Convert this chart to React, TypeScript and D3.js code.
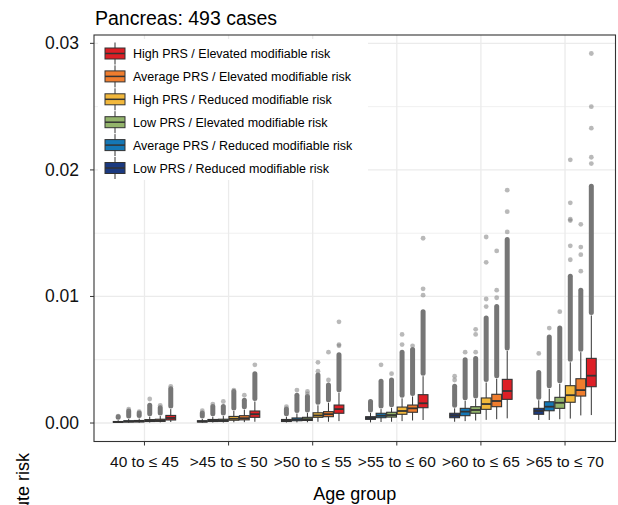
import React from "react";
import * as d3 from "d3";

const chartTitle = "Pancreas: 493 cases";
const xTitle = "Age group";
const yTitle = "Absolute risk";

const ageGroups = ["40 to ≤ 45", ">45 to ≤ 50", ">50 to ≤ 55", ">55 to ≤ 60", ">60 to ≤ 65", ">65 to ≤ 70"];

// left-to-right order inside each age group
const seriesNames = [
  "Low PRS / Reduced modifiable risk",
  "Average PRS / Reduced modifiable risk",
  "Low PRS / Elevated modifiable risk",
  "High PRS / Reduced modifiable risk",
  "Average PRS / Elevated modifiable risk",
  "High PRS / Elevated modifiable risk",
];
const seriesColors = ["#1B3A80", "#1477B6", "#93B46B", "#F2B83C", "#F07D2E", "#DD1F26"];

// per age group: [lower whisker, Q1, median, Q3, upper whisker, top of dense outlier column]
const lowPrsReduced = [
  [0.00002, 0.00005, 0.00008, 0.00012, 0.00022, 0.0005],
  [0.00003, 0.00008, 0.00012, 0.00018, 0.00032, 0.0008],
  [0.00004, 0.00012, 0.00018, 0.00028, 0.0005, 0.0011],
  [0.00005, 0.00029, 0.0004, 0.0005, 0.0008, 0.0017],
  [0.0001, 0.00042, 0.0006, 0.00077, 0.00116, 0.0029],
  [0.00024, 0.00069, 0.00095, 0.00116, 0.0018, 0.004],
];
const avgPrsReduced = [
  [0.00003, 0.00008, 0.00012, 0.00018, 0.00032, 0.00095],
  [0.00004, 0.00012, 0.00018, 0.00028, 0.0005, 0.0013],
  [0.00005, 0.00018, 0.00027, 0.0004, 0.00075, 0.0022],
  [0.00008, 0.00042, 0.00058, 0.00077, 0.0011, 0.0033],
  [0.00015, 0.00058, 0.0009, 0.00116, 0.00176, 0.005],
  [0.00024, 0.00097, 0.00129, 0.00168, 0.0027, 0.0068],
];
const lowPrsElevated = [
  [0.00003, 0.00009, 0.00013, 0.0002, 0.00035, 0.0008],
  [0.00004, 0.00013, 0.0002, 0.0003, 0.00055, 0.0013],
  [0.00006, 0.0002, 0.0003, 0.00045, 0.0008, 0.0021],
  [0.0001, 0.00047, 0.00063, 0.00085, 0.0012, 0.0034],
  [0.0002, 0.00077, 0.00103, 0.00129, 0.0019, 0.0051],
  [0.0003, 0.00116, 0.0016, 0.00203, 0.0031, 0.0075],
];
const highPrsReduced = [
  [0.00004, 0.00012, 0.00018, 0.00027, 0.0005, 0.0014],
  [0.00006, 0.00022, 0.00034, 0.00052, 0.00095, 0.0025],
  [0.0001, 0.00045, 0.0006, 0.00081, 0.0014, 0.0038],
  [0.00015, 0.00069, 0.00095, 0.00126, 0.00195, 0.0056],
  [0.00025, 0.00108, 0.0015, 0.00198, 0.0032, 0.0083],
  [0.00035, 0.00164, 0.0022, 0.00295, 0.0048, 0.0116],
];
const avgPrsElevated = [
  [0.00005, 0.00013, 0.0002, 0.0003, 0.00055, 0.0012],
  [0.00007, 0.00025, 0.00038, 0.00058, 0.00105, 0.0018],
  [0.0001, 0.0005, 0.0007, 0.0009, 0.0016, 0.003],
  [0.0002, 0.00085, 0.00116, 0.00142, 0.0021, 0.0058],
  [0.0003, 0.00129, 0.00174, 0.00227, 0.0035, 0.0092],
  [0.0006, 0.00213, 0.0026, 0.0035, 0.0056, 0.0105],
];
const highPrsElevated = [
  [0.00008, 0.00024, 0.0004, 0.0006, 0.0011, 0.0027],
  [0.0001, 0.00045, 0.0007, 0.00095, 0.0017, 0.0039],
  [0.00015, 0.00077, 0.0011, 0.00142, 0.0024, 0.0054],
  [0.00024, 0.00121, 0.00156, 0.00224, 0.0037, 0.0088],
  [0.00037, 0.00187, 0.00253, 0.00345, 0.0057, 0.0145],
  [0.00063, 0.00287, 0.00374, 0.00511, 0.0085, 0.0187],
];

// isolated outliers above the dense column, per age group
const lowPrsReducedOutliers = [[0.00055], [0.00097], [0.0013], [], [0.0034, 0.0037], [0.0055]];
const avgPrsReducedOutliers = [[0.0011], [0.0015], [0.0026], [0.0046], [0.0056], [0.0075]];
const lowPrsElevatedOutliers = [[0.0009], [0.0017], [0.0023, 0.0025], [0.0039], [0.0056, 0.007, 0.0074], [0.0088]];
const highPrsReducedOutliers = [[0.0019], [0.0026], [0.0041, 0.0048], [0.0062, 0.007], [0.0092, 0.0098, 0.0127, 0.0147], [0.0129, 0.014, 0.016, 0.0161, 0.0174, 0.0208]];
const avgPrsElevatedOutliers = [[0.0014], [0.0022], [0.0034, 0.0056], [0.0061], [0.0099, 0.0105, 0.0136], [0.012, 0.0133, 0.0139, 0.0157]];
const highPrsElevatedOutliers = [[0.0029], [0.0046], [0.0061, 0.0062, 0.008], [0.0101, 0.0106, 0.0146], [0.0151, 0.0167, 0.0184], [0.0205, 0.021, 0.0233, 0.025, 0.0292]];

const yTicks = [0, 0.01, 0.02, 0.03];
const yMinorTicks = [0.005, 0.015, 0.025];

const seriesStats = [lowPrsReduced, avgPrsReduced, lowPrsElevated, highPrsReduced, avgPrsElevated, highPrsElevated];
const seriesOutliers = [lowPrsReducedOutliers, avgPrsReducedOutliers, lowPrsElevatedOutliers, highPrsReducedOutliers, avgPrsElevatedOutliers, highPrsElevatedOutliers];

const W = 618;
const H = 505;
const panel = { left: 94, right: 615.5, top: 35, bottom: 441.5 };
const FONT = "'Liberation Sans', Arial, Helvetica, sans-serif";

export default function App() {
  const allMax = d3.max(seriesOutliers.flat(2)) as number;
  const pad = allMax * 0.05;
  const y = d3.scaleLinear().domain([-pad, allMax + pad]).range([panel.bottom, panel.top]);
  const x = d3.scaleLinear().domain([0.4, ageGroups.length + 0.6]).range([panel.left, panel.right]);
  const dodge = 0.75;
  const nS = seriesNames.length;
  const slot = dodge / nS;
  const slotPx = x(slot) - x(0);
  const boxW = slotPx * 0.93;
  const fmt = d3.format(".2f");

  const marks: React.ReactNode[] = [];
  ageGroups.forEach((g, gi) => {
    seriesStats.forEach((stats, si) => {
      const [lo, q1, med, q3, hi, dense] = stats[gi];
      const cx = x(gi + 1 + (si - (nS - 1) / 2) * slot);
      const key = `${gi}-${si}`;
      const denseStart = y(hi) - 3;
      const denseEnd = y(dense);
      marks.push(
        <g key={key}>
          {denseEnd < denseStart && (
            <line x1={cx} x2={cx} y1={denseStart} y2={denseEnd} stroke="#767676" strokeWidth={5} strokeLinecap="round" />
          )}
          {seriesOutliers[si][gi].map((v, k) => (
            <circle key={k} cx={cx} cy={y(v)} r={2.4} fill="#7f7f7f" fillOpacity={0.55} />
          ))}
          <line x1={cx} x2={cx} y1={y(hi)} y2={y(lo)} stroke="#333" strokeWidth={1} />
          <rect x={cx - boxW / 2} y={y(q3)} width={boxW} height={Math.max(0.5, y(q1) - y(q3))} fill={seriesColors[si]} stroke="#333" strokeWidth={1.1} />
          <line x1={cx - boxW / 2} x2={cx + boxW / 2} y1={y(med)} y2={y(med)} stroke="#333" strokeWidth={1.8} />
        </g>
      );
    });
  });

  const legendOrder = seriesNames.map((_, i) => i).reverse();
  const legendX = 105;
  const legendY0 = 53.5;
  const legendStep = 22.9;

  return (
    <svg width={W} height={H} style={{ position: "absolute", left: 0, top: 0, background: "#fff" }} fontFamily={FONT}>
      <rect x={0} y={0} width={W} height={H} fill="#fff" />
      <text x={95} y={25} fontSize={19.5} fill="#000">{chartTitle}</text>
      <rect x={panel.left} y={panel.top} width={panel.right - panel.left} height={panel.bottom - panel.top} fill="#fff" />
      {yMinorTicks.map((t) => (
        <line key={"m" + t} x1={panel.left} x2={panel.right} y1={y(t)} y2={y(t)} stroke="#f0f0f0" strokeWidth={1} />
      ))}
      {yTicks.map((t) => (
        <line key={"g" + t} x1={panel.left} x2={panel.right} y1={y(t)} y2={y(t)} stroke="#ebebeb" strokeWidth={1.3} />
      ))}
      {ageGroups.map((g, i) => (
        <line key={"v" + i} x1={x(i + 1)} x2={x(i + 1)} y1={panel.top} y2={panel.bottom} stroke="#ebebeb" strokeWidth={1.3} />
      ))}
      {marks}
      <rect x={98} y={39} width={270} height={141} fill="#fff" />
      {legendOrder.map((si, k) => {
        const cy = legendY0 + k * legendStep;
        return (
          <g key={"l" + si}>
            <line x1={legendX + 10} x2={legendX + 10} y1={cy - 11} y2={cy + 11} stroke="#333" strokeWidth={1} />
            <rect x={legendX} y={cy - 5.5} width={20} height={11} fill={seriesColors[si]} stroke="#333" strokeWidth={1} />
            <line x1={legendX} x2={legendX + 20} y1={cy} y2={cy} stroke="#333" strokeWidth={1.5} />
            <text x={133} y={cy + 4.5} fontSize={12.5} fill="#000">{seriesNames[si]}</text>
          </g>
        );
      })}
      <rect x={panel.left} y={panel.top} width={panel.right - panel.left} height={panel.bottom - panel.top} fill="none" stroke="#333" strokeWidth={1.1} />
      {yTicks.map((t) => (
        <g key={"yt" + t}>
          <line x1={panel.left - 4} x2={panel.left} y1={y(t)} y2={y(t)} stroke="#333" strokeWidth={1} />
          <text x={79} y={y(t) + 6} fontSize={17.5} textAnchor="end" fill="#111">{fmt(t)}</text>
        </g>
      ))}
      {ageGroups.map((g, i) => (
        <g key={"xt" + i}>
          <line x1={x(i + 1)} x2={x(i + 1)} y1={panel.bottom} y2={panel.bottom + 4} stroke="#333" strokeWidth={1} />
          <text x={x(i + 1)} y={467} fontSize={15.5} textAnchor="middle" fill="#111">{g}</text>
        </g>
      ))}
      <text x={(panel.left + panel.right) / 2} y={500} fontSize={18} textAnchor="middle" fill="#000">{xTitle}</text>
      <text transform="translate(28.5,453) rotate(-90)" fontSize={18} textAnchor="end" fill="#000">{yTitle}</text>
    </svg>
  );
}
